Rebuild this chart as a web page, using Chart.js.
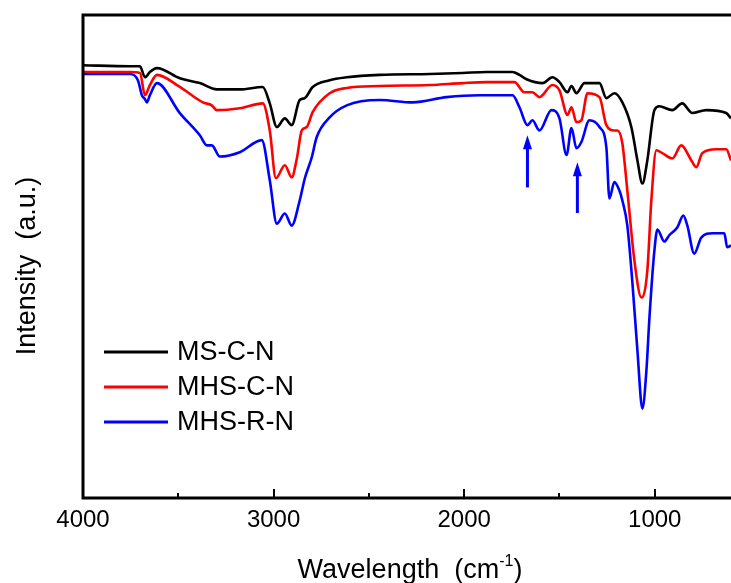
<!DOCTYPE html>
<html>
<head>
<meta charset="utf-8">
<script src="https://cdn.jsdelivr.net/npm/chart.js@4.4.1/dist/chart.umd.min.js"></script>
<style>
  html, body { margin: 0; padding: 0; background: #fff; overflow: hidden; }
  #chart { display: block; }
</style>
</head>
<body>
<canvas id="chart" width="731" height="583"></canvas>
<script>
// Series names and colours
const seriesNames = ['MS-C-N', 'MHS-C-N', 'MHS-R-N'];
const seriesColors = ['#000000', '#ff0000', '#0000ff'];

// MS-C-N (wavenumber, intensity a.u.)
const msWave = [4000, 3754, 3701, 3675, 3649, 3612, 3492, 3387, 3298, 3177,
    3057, 3020, 2983, 2941, 2905, 2863, 2836, 2795, 2706, 2616,
    2443, 2181, 2008, 1883, 1746, 1710, 1673, 1589, 1537, 1500,
    1458, 1437, 1411, 1369, 1290, 1254, 1212, 1170, 1123, 1091,
    1065, 1039, 1002, 976, 908, 856, 803, 730, 625, 600];
const msInt = [89.6, 89.4, 89.4, 87.1, 88.2, 89.0, 86.9, 85.9, 84.6, 84.6,
    85.1, 81.7, 76.8, 78.6, 77.2, 82.4, 82.8, 85.1, 86.5, 87.1,
    87.6, 87.8, 88.0, 88.2, 88.2, 87.6, 86.7, 85.9, 87.1, 86.1,
    84.0, 85.3, 83.8, 85.9, 85.9, 82.8, 83.8, 81.9, 76.8, 69.9,
    65.1, 69.9, 80.3, 81.1, 80.3, 81.7, 79.7, 80.3, 79.7, 78.6];

// MHS-C-N
const mhscWave = [4000, 3754, 3701, 3675, 3649, 3612, 3492, 3371, 3324, 3298,
    3177, 3057, 3020, 2988, 2941, 2905, 2878, 2852, 2826, 2795,
    2706, 2616, 2443, 2181, 2008, 1883, 1746, 1736, 1684, 1642,
    1605, 1537, 1500, 1458, 1437, 1411, 1385, 1353, 1290, 1254,
    1212, 1196, 1170, 1144, 1107, 1070, 1039, 1018, 992, 960,
    908, 861, 808, 782, 751, 677, 625, 600];
const mhscInt = [88.2, 88.2, 88.0, 83.4, 85.5, 87.6, 85.1, 81.9, 81.3, 80.3,
    80.7, 81.7, 76.1, 66.2, 68.9, 66.4, 70.3, 76.1, 76.8, 79.9,
    83.8, 84.9, 85.3, 85.5, 85.9, 86.1, 86.1, 86.1, 84.0, 84.0,
    83.0, 85.5, 84.4, 79.3, 80.9, 77.8, 78.2, 83.8, 83.0, 77.2,
    76.1, 76.1, 73.4, 63.7, 49.2, 41.5, 47.1, 61.6, 72.0, 71.4,
    70.3, 73.0, 69.9, 68.5, 71.4, 72.2, 72.2, 69.9];

// MHS-R-N
const mhsrWave = [4000, 3754, 3712, 3691, 3675, 3665, 3649, 3612, 3492, 3387,
    3350, 3324, 3282, 3177, 3062, 3020, 2983, 2941, 2905, 2863,
    2836, 2800, 2774, 2706, 2616, 2443, 2270, 2092, 1919, 1746,
    1710, 1668, 1642, 1605, 1542, 1500, 1463, 1437, 1411, 1385,
    1343, 1290, 1254, 1238, 1212, 1186, 1170, 1144, 1117, 1091,
    1065, 1044, 1028, 1002, 986, 950, 924, 882, 850, 829,
    793, 756, 698, 635, 620, 600];
const mhsrInt = [87.8, 87.8, 86.5, 83.4, 82.6, 81.9, 83.4, 85.9, 79.7, 75.1,
    73.0, 73.0, 70.7, 71.6, 74.1, 65.8, 56.8, 58.9, 56.4, 61.6,
    66.2, 70.5, 74.7, 78.8, 81.3, 82.4, 81.9, 83.0, 83.4, 83.4,
    80.9, 77.2, 78.2, 76.1, 80.3, 78.6, 71.0, 76.6, 72.4, 73.7,
    78.2, 76.8, 72.6, 62.0, 65.4, 63.7, 61.6, 56.4, 44.4, 30.5,
    18.5, 26.3, 37.3, 51.2, 55.6, 53.1, 54.4, 56.0, 58.5, 56.4,
    50.6, 53.9, 54.8, 54.8, 51.9, 52.3];

// Axis ticks
const xTicks = [4000, 3000, 2000, 1000];
const xMinorTicks = [3500, 2500, 1500];

// Blue arrows (wavenumber, start, tip)
const arrowWave = [1668, 1406];
const arrowFrom = [64.3, 59.0];
const arrowTo = [75.1, 69.5];

const FONT = '"Liberation Sans", Arial, sans-serif';

function toPoints(xs, ys) {
    return xs.map((x, i) => ({ x: x, y: ys[i] }));
}

// Frame, tick marks, axis titles, legend and arrows
const decorPlugin = {
    id: 'decor',
    afterDraw(chart) {
        const ctx = chart.ctx;
        const area = chart.chartArea;
        const xs = chart.scales.x;
        const ys = chart.scales.y;
        ctx.save();

        // frame (left, top, bottom; right side is cut off)
        ctx.strokeStyle = '#000';
        ctx.lineWidth = 3;
        ctx.beginPath();
        ctx.moveTo(chart.width + 5, area.top);
        ctx.lineTo(area.left, area.top);
        ctx.lineTo(area.left, area.bottom);
        ctx.lineTo(chart.width + 5, area.bottom);
        ctx.stroke();

        // inward tick marks
        ctx.lineWidth = 2;
        xTicks.concat(xMinorTicks).forEach(v => {
            const px = Math.round(xs.getPixelForValue(v));
            const len = xTicks.includes(v) ? 9 : 5;
            ctx.beginPath();
            ctx.moveTo(px, area.bottom);
            ctx.lineTo(px, area.bottom - len);
            ctx.stroke();
        });

        // arrows
        ctx.fillStyle = '#0000ff';
        ctx.strokeStyle = '#0000ff';
        ctx.lineWidth = 3;
        arrowWave.forEach((w, i) => {
            const px = xs.getPixelForValue(w);
            const yb = ys.getPixelForValue(arrowFrom[i]);
            const yt = ys.getPixelForValue(arrowTo[i]);
            ctx.beginPath();
            ctx.moveTo(px, yb);
            ctx.lineTo(px, yt + 10);
            ctx.stroke();
            ctx.beginPath();
            ctx.moveTo(px, yt);
            ctx.lineTo(px - 4.5, yt + 14);
            ctx.lineTo(px + 4.5, yt + 14);
            ctx.closePath();
            ctx.fill();
        });

        // x axis title with superscript
        ctx.fillStyle = '#000';
        ctx.textBaseline = 'alphabetic';
        const part1 = 'Wavelength  (cm';
        const part3 = ')';
        ctx.font = '27px ' + FONT;
        const w1 = ctx.measureText(part1).width;
        const w3 = ctx.measureText(part3).width;
        ctx.font = '16px ' + FONT;
        const w2 = ctx.measureText('-1').width;
        const total = w1 + w2 + w3;
        const tx = 410 - total / 2;
        const ty = 578;
        ctx.textAlign = 'left';
        ctx.font = '27px ' + FONT;
        ctx.fillText(part1, tx, ty);
        ctx.font = '16px ' + FONT;
        ctx.fillText('-1', tx + w1, ty - 12);
        ctx.font = '27px ' + FONT;
        ctx.fillText(part3, tx + w1 + w2, ty);

        // y axis title
        ctx.save();
        ctx.translate(35, 266);
        ctx.rotate(-Math.PI / 2);
        ctx.textAlign = 'center';
        ctx.fillText('Intensity  (a.u.)', 0, 0);
        ctx.restore();

        // legend
        const rows = [352, 387, 422];
        ctx.textAlign = 'left';
        ctx.textBaseline = 'middle';
        ctx.font = '27px ' + FONT;
        chart.data.datasets.forEach((ds, i) => {
            ctx.strokeStyle = ds.borderColor;
            ctx.lineWidth = 3;
            ctx.beginPath();
            ctx.moveTo(104, rows[i]);
            ctx.lineTo(168, rows[i]);
            ctx.stroke();
            ctx.fillStyle = '#000';
            ctx.fillText(ds.label, 177, rows[i] + 1);
        });

        ctx.restore();
    }
};

const ctx = document.getElementById('chart').getContext('2d');
const chart = new Chart(ctx, {
    type: 'line',
    data: {
        datasets: [
            { label: seriesNames[0], data: toPoints(msWave, msInt), borderColor: seriesColors[0] },
            { label: seriesNames[1], data: toPoints(mhscWave, mhscInt), borderColor: seriesColors[1] },
            { label: seriesNames[2], data: toPoints(mhsrWave, mhsrInt), borderColor: seriesColors[2] }
        ]
    },
    options: {
        responsive: false,
        animation: false,
        parsing: false,
        datasets: {
            line: {
                borderWidth: 2.6,
                pointRadius: 0,
                cubicInterpolationMode: 'monotone',
                fill: false
            }
        },
        layout: { padding: { top: 15, right: 0, left: 0, bottom: 0 } },
        plugins: {
            legend: { display: false },
            tooltip: { enabled: false }
        },
        scales: {
            x: {
                type: 'linear',
                reverse: true,
                min: 600,
                max: 4000,
                afterBuildTicks: scale => {
                    scale.ticks = xTicks.map(v => ({ value: v }));
                },
                afterFit: scale => { scale.height = 85; },
                grid: { display: false, drawTicks: false },
                border: { display: false },
                ticks: {
                    color: '#000',
                    font: { family: FONT, size: 24 },
                    padding: 8,
                    maxRotation: 0,
                    autoSkip: false,
                    callback: v => String(v)
                }
            },
            y: {
                min: 0,
                max: 100,
                afterFit: scale => { scale.width = 83; },
                grid: { display: false, drawTicks: false },
                border: { display: false },
                ticks: { display: false }
            }
        }
    },
    plugins: [decorPlugin]
});
</script>
</body>
</html>
